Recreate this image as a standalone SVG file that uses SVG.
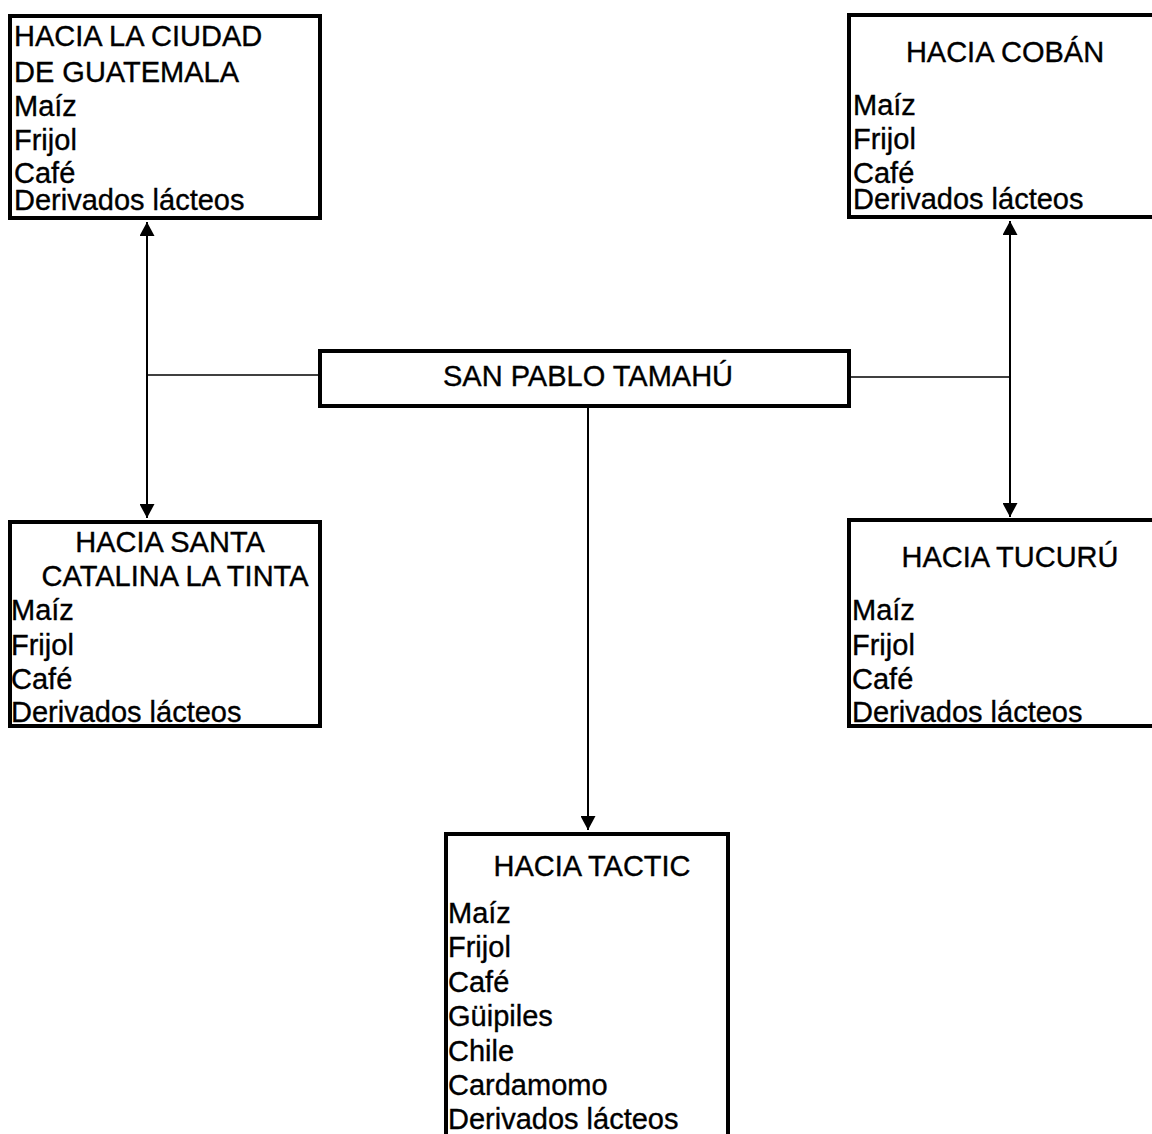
<svg xmlns="http://www.w3.org/2000/svg" width="1152" height="1134" viewBox="0 0 1152 1134">
<style>
.box{fill:#fff;stroke:#000;stroke-width:4}
.t{font-family:"Liberation Sans",Arial,sans-serif;font-size:29px;fill:#000;stroke:#000;stroke-width:0.35}
.c{text-anchor:middle}
.ln{stroke:#000;fill:none}
</style>
<defs>
<marker id="ah" markerUnits="userSpaceOnUse" markerWidth="14" markerHeight="15" refX="14" refY="7.5" orient="auto-start-reverse">
<path d="M0,0 L14,7.5 L0,15 z" fill="#000"/>
</marker>
</defs>
<rect width="1152" height="1134" fill="#fff"/>
<g id="connectors">
<path class="ln" stroke-width="2" d="M147,222 L147,518" marker-start="url(#ah)" marker-end="url(#ah)"/>
<path class="ln" stroke-width="1.5" d="M147,375 L318,375"/>
<path class="ln" stroke-width="2" d="M1010,221 L1010,517" marker-start="url(#ah)" marker-end="url(#ah)"/>
<path class="ln" stroke-width="1.5" d="M851,377 L1010,377"/>
<path class="ln" stroke-width="2" d="M588,408 L588,830" marker-end="url(#ah)"/>
</g>
<g id="node-guatemala">
<rect class="box" x="10" y="16" width="310" height="202"/>
<text class="t" x="14" y="46">HACIA LA CIUDAD</text>
<text class="t" x="14" y="82">DE GUATEMALA</text>
<text class="t" x="14" y="116">Maíz</text>
<text class="t" x="14" y="150">Frijol</text>
<text class="t" x="14" y="183">Café</text>
<text class="t" x="14" y="210">Derivados lácteos</text>
</g>
<g id="node-coban">
<rect class="box" x="849" y="15" width="320" height="202"/>
<text class="t c" x="1005" y="62">HACIA COBÁN</text>
<text class="t" x="853" y="115">Maíz</text>
<text class="t" x="853" y="149">Frijol</text>
<text class="t" x="853" y="183">Café</text>
<text class="t" x="853" y="209">Derivados lácteos</text>
</g>
<g id="node-tamahu">
<rect class="box" x="320" y="351" width="529" height="55"/>
<text class="t c" x="588" y="386">SAN PABLO TAMAHÚ</text>
</g>
<g id="node-santa-catalina">
<rect class="box" x="10" y="522" width="310" height="204"/>
<text class="t c" x="170" y="552">HACIA SANTA</text>
<text class="t c" x="175" y="586">CATALINA LA TINTA</text>
<text class="t" x="11" y="620">Maíz</text>
<text class="t" x="11" y="655">Frijol</text>
<text class="t" x="11" y="689">Café</text>
<text class="t" x="11" y="722">Derivados lácteos</text>
</g>
<g id="node-tucuru">
<rect class="box" x="849" y="520" width="320" height="206"/>
<text class="t c" x="1010" y="567">HACIA TUCURÚ</text>
<text class="t" x="852" y="620">Maíz</text>
<text class="t" x="852" y="655">Frijol</text>
<text class="t" x="852" y="689">Café</text>
<text class="t" x="852" y="722">Derivados lácteos</text>
</g>
<g id="node-tactic">
<rect class="box" x="446" y="834" width="282" height="320"/>
<text class="t c" x="592" y="876">HACIA TACTIC</text>
<text class="t" x="448" y="923">Maíz</text>
<text class="t" x="448" y="957">Frijol</text>
<text class="t" x="448" y="992">Café</text>
<text class="t" x="448" y="1026">Güipiles</text>
<text class="t" x="448" y="1061">Chile</text>
<text class="t" x="448" y="1095">Cardamomo</text>
<text class="t" x="448" y="1129">Derivados lácteos</text>
</g>
</svg>
